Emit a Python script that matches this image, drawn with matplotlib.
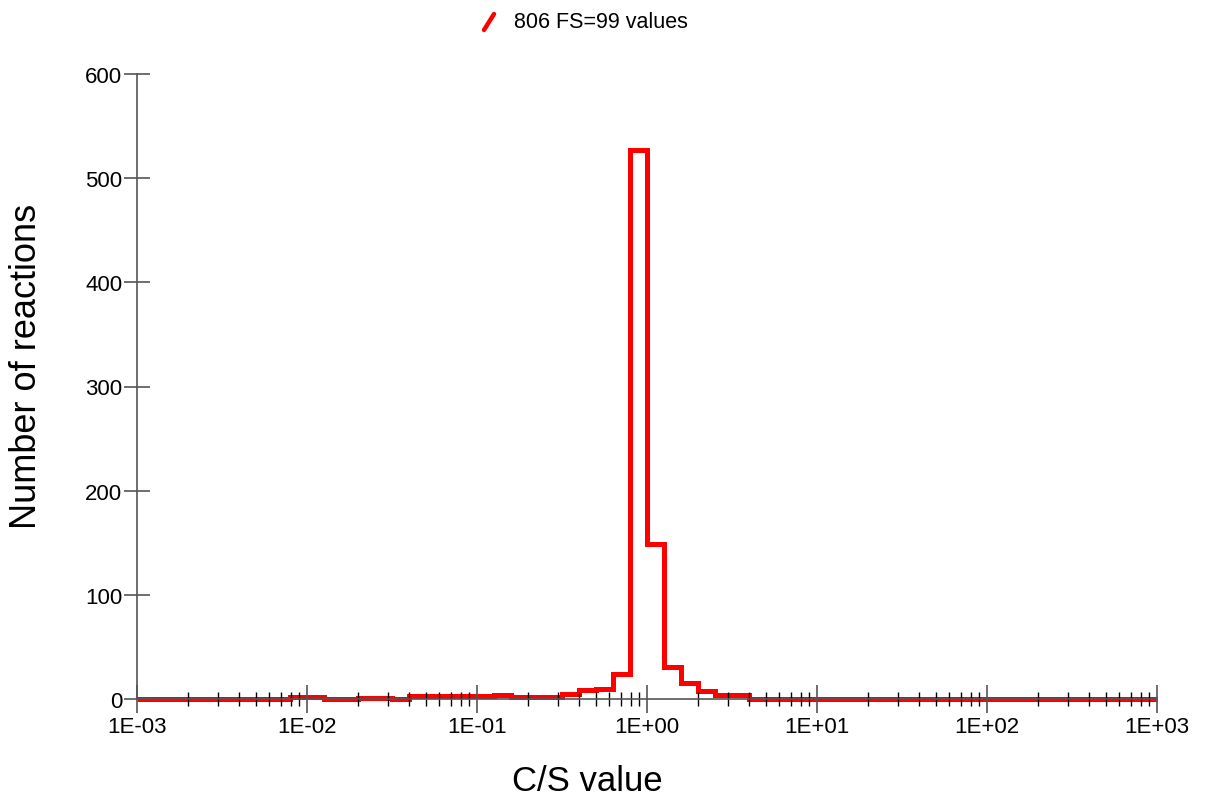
import numpy as np
import matplotlib.pyplot as plt
from matplotlib.lines import Line2D
from matplotlib.ticker import FixedLocator, FuncFormatter, MultipleLocator, NullFormatter

plt.rcParams["font.family"] = ["Liberation Sans", "DejaVu Sans"]

# histogram of C/S values, 10 bins per decade from 1E-03 to 1E+03
bin_edges = np.logspace(-3, 3, 61)
counts = [
    0, 0, 0, 0, 0, 0, 0, 0, 0, 2,
    2, 0, 0, 1, 1, 0, 3, 3, 3, 3,
    3, 4, 2, 2, 2, 5, 9, 10, 24, 527,
    149, 31, 15, 8, 4, 4, 0, 0, 0, 0,
    0, 0, 0, 0, 0, 0, 0, 0, 0, 0,
    0, 0, 0, 0, 0, 0, 0, 0, 0, 0,
]
decades = [-3, -2, -1, 0, 1, 2, 3]
legend_label = "806 FS=99 values"
x_label = "C/S value"
y_label = "Number of reactions"


def sci_label(x, pos):
    return "1E%+03d" % int(round(np.log10(x)))


major_ticks = [10.0 ** d for d in decades]
minor_ticks = [m * 10.0 ** d for d in decades[:-1] for m in range(2, 10)]

fig = plt.figure(figsize=(12.07, 8.04), dpi=100)
ax = fig.add_axes([137 / 1207, 104 / 804, 1020 / 1207, 625 / 804])

ax.stairs(
    counts,
    bin_edges,
    color="#ff0000",
    linewidth=3.6,
    baseline=0,
    clip_on=False,
)

ax.set_xscale("log")
ax.set_xlim(1e-3, 1e3)
ax.set_ylim(0, 600)

ax.xaxis.set_major_locator(FixedLocator(major_ticks))
ax.xaxis.set_minor_locator(FixedLocator(minor_ticks))
ax.xaxis.set_major_formatter(FuncFormatter(sci_label))
ax.xaxis.set_minor_formatter(NullFormatter())
ax.yaxis.set_major_locator(MultipleLocator(100))

for side in ["top", "right"]:
    ax.spines[side].set_visible(False)
for side in ["left", "bottom"]:
    ax.spines[side].set_color("#555555")
    ax.spines[side].set_linewidth(1.2)

ax.tick_params(axis="x", which="major", direction="inout", length=20,
               width=1.2, color="#555555", labelsize=16, pad=2)
ax.tick_params(axis="x", which="minor", direction="inout", length=10,
               width=1.0, color="black")
ax.tick_params(axis="y", which="major", direction="inout", length=19,
               width=1.2, color="#555555", labelsize=16, pad=1)

fig.text(27 / 1207, (804 - 366) / 804, y_label, rotation=90,
         ha="center", va="center", fontsize=26)
fig.text(587 / 1207, (804 - 782) / 804, x_label,
         ha="center", va="center", fontsize=25)

# legend entry: short slanted red stroke followed by the label
fig.add_artist(Line2D([484 / 1207, 494 / 1207], [(804 - 31) / 804, (804 - 15) / 804],
                      transform=fig.transFigure, color="#ff0000",
                      linewidth=3.2, solid_capstyle="round"))
fig.text(514 / 1207, (804 - 23) / 804, legend_label,
         ha="left", va="center", fontsize=15.5)

fig.savefig("out.png", dpi=100)
